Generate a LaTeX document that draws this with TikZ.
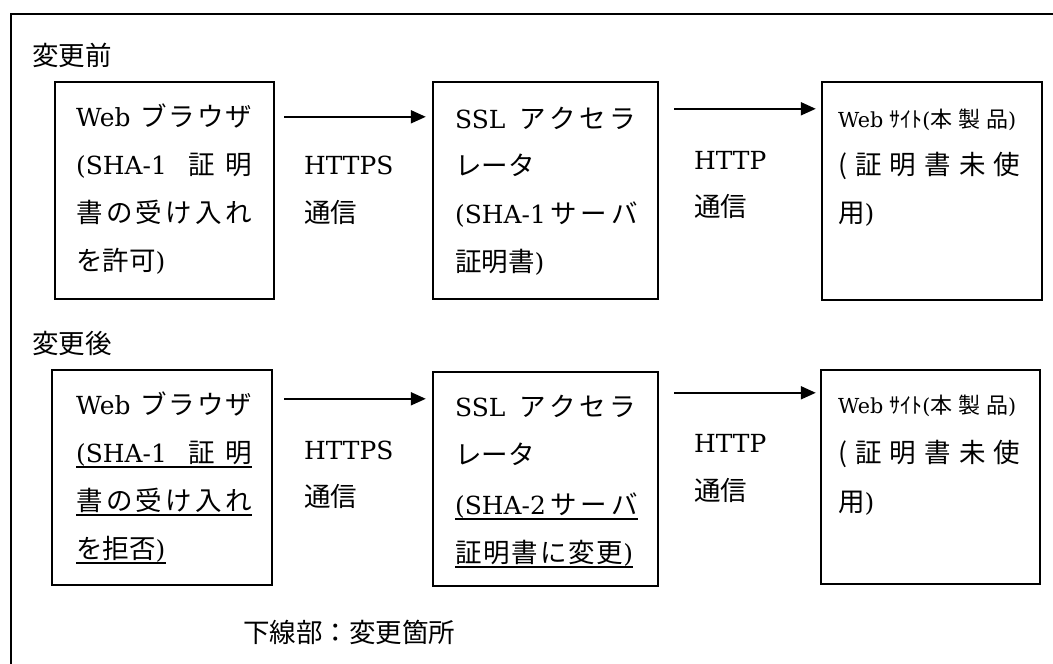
\documentclass[tikz,border=0pt]{standalone}
\usepackage{fontspec}
\setmainfont{DejaVu Serif}[Scale=0.94]
\newfontfamily\cjk{Noto Sans CJK JP}
\newcommand\J[1]{{\cjk #1}}
\usetikzlibrary{arrows.meta}
\tikzset{
  box/.style={draw, line width=2.4pt, inner sep=0pt},
  txt/.style={anchor=base west, inner sep=0pt, font=\fontsize{26.5}{30}\selectfont},
  stxt/.style={anchor=base west, inner sep=0pt, font=\fontsize{22}{26}\selectfont},
  arr/.style={line width=2pt, -{Triangle[length=15pt,width=13pt]}},
  uline/.style={line width=2pt},
  frame/.style={line width=2pt},
}
\begin{document}
\begin{tikzpicture}[x=1pt,y=-1pt]
\useasboundingbox (0,0) rectangle (1053,664);
% frame (only left and top edges are visible)
\coordinate (fbl) at (11,664);
\coordinate (ftl) at (11,14);
\coordinate (ftr) at (1053,14);
\draw[frame] (fbl) -- (ftl) -- (ftr);

% ---------------- before ----------------
\node[txt] (before) at (32,65) {\J{変更前}};
\node[box, minimum width=219pt, minimum height=217pt] (b1) at (164.5,190.5) {};
\node[box, minimum width=225pt, minimum height=217pt] (b2) at (545.5,190.5) {};
\node[box, minimum width=220pt, minimum height=218pt] (b3) at (932,191) {};

\node[txt] (b1l1) at (76,126) {\makebox[176pt]{Web\hskip8pt\hfill\J{ブ}\hfill\J{ラ}\hfill\J{ウ}\hfill\J{ザ}}};
\node[txt] (b1l2) at (76,174) {\makebox[176pt]{(SHA-1\hfill\hfill\J{証}\hfill\J{明}}};
\node[txt] (b1l3) at (76,222) {\makebox[176pt]{\J{書}\hfill\J{の}\hfill\J{受}\hfill\J{け}\hfill\J{入}\hfill\J{れ}}};
\node[txt] (b1l4) at (76,270) {\J{を許可})};

\node[txt] (h1a) at (304,174) {HTTPS};
\node[txt] (h1b) at (304,222) {\J{通信}};

\node[txt] (b2l1) at (455,128) {\makebox[181pt]{SSL\hskip10pt\hfill\J{ア}\hfill\J{ク}\hfill\J{セ}\hfill\J{ラ}}};
\node[txt] (b2l2) at (455,175) {\J{レータ}};
\node[txt] (b2l3) at (455,223) {\makebox[183pt]{(SHA-1\hfill\J{サ}\hfill\J{ー}\hfill\J{バ}}};
\node[txt] (b2l4) at (455,271) {\J{証明書})};

\node[txt] (h2a) at (694,169) {HTTP};
\node[txt] (h2b) at (694,216) {\J{通信}};

\node[stxt] (b3l1) at (838,127) {\makebox[178pt]{Web\hskip6pt\J{ｻｲﾄ}(\J{本}\hfill\J{製}\hfill\J{品})}};
\node[txt] (b3l2) at (838,174) {\makebox[182pt]{\J{(}\hfill\J{証}\hfill\J{明}\hfill\J{書}\hfill\J{未}\hfill\J{使}}};
\node[txt] (b3l3) at (838,222) {\J{用})};

\draw[arr, shorten <=9pt, shorten >=6pt] ([yshift=-36pt]b1.north east) -- ([yshift=-36pt]b2.north west);
\draw[arr, shorten <=15pt, shorten >=5pt] ([yshift=-28pt]b2.north east) -- ([yshift=-28pt]b3.north west);

% ---------------- after ----------------
\node[txt] (after) at (32,353) {\J{変更後}};
\node[box, minimum width=220pt, minimum height=215pt] (c1) at (162,477.5) {};
\node[box, minimum width=225pt, minimum height=214pt] (c2) at (545.5,479) {};
\node[box, minimum width=219pt, minimum height=214pt] (c3) at (930.5,477) {};

\node[txt] (c1l1) at (76,414) {\makebox[176pt]{Web\hskip8pt\hfill\J{ブ}\hfill\J{ラ}\hfill\J{ウ}\hfill\J{ザ}}};
\node[txt] (c1l2) at (76,462) {\makebox[176pt]{(SHA-1\hfill\hfill\J{証}\hfill\J{明}}};
\node[txt] (c1l3) at (76,510) {\makebox[176pt]{\J{書}\hfill\J{の}\hfill\J{受}\hfill\J{け}\hfill\J{入}\hfill\J{れ}}};
\node[txt] (c1l4) at (76,558) {\J{を拒否})};

\node[txt] (h3a) at (304,459) {HTTPS};
\node[txt] (h3b) at (304,506) {\J{通信}};

\node[txt] (c2l1) at (455,416) {\makebox[181pt]{SSL\hskip10pt\hfill\J{ア}\hfill\J{ク}\hfill\J{セ}\hfill\J{ラ}}};
\node[txt] (c2l2) at (455,464) {\J{レータ}};
\node[txt] (c2l3) at (455,514) {\makebox[183pt]{(SHA-2\hfill\J{サ}\hfill\J{ー}\hfill\J{バ}}};
\node[txt] (c2l4) at (455,562) {\makebox[178pt]{\J{証}\hfill\J{明}\hfill\J{書}\hfill\J{に}\hfill\J{変}\hfill\J{更})}};

\node[txt] (h4a) at (694,452) {HTTP};
\node[txt] (h4b) at (694,500) {\J{通信}};

\node[stxt] (c3l1) at (838,413) {\makebox[178pt]{Web\hskip6pt\J{ｻｲﾄ}(\J{本}\hfill\J{製}\hfill\J{品})}};
\node[txt] (c3l2) at (838,462) {\makebox[182pt]{\J{(}\hfill\J{証}\hfill\J{明}\hfill\J{書}\hfill\J{未}\hfill\J{使}}};
\node[txt] (c3l3) at (838,511) {\J{用})};

\draw[arr, shorten <=11pt, shorten >=6pt] ([yshift=-30pt]c1.north east) -- ([yshift=-28pt]c2.north west);
\draw[arr, shorten <=15pt, shorten >=4pt] ([yshift=-22pt]c2.north east) -- ([yshift=-24pt]c3.north west);

% underlines
\foreach \n in {c1l2,c1l3,c1l4,c2l3,c2l4}{
  \draw[uline] ([yshift=-5pt]\n.base west) -- ([yshift=-5pt]\n.base east);
}

\node[txt] (note) at (243,642) {\J{下線部：変更箇所}};
\end{tikzpicture}
\end{document}
